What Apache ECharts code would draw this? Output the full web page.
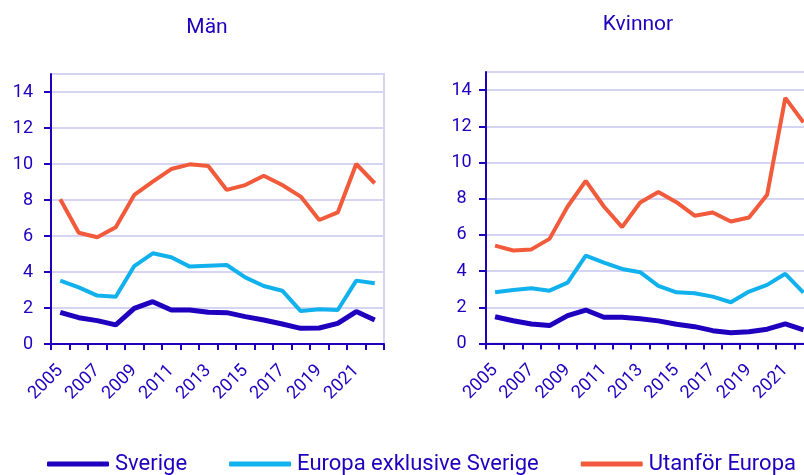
<!DOCTYPE html>
<html>
<head>
<meta charset="utf-8">
<script src="https://cdn.jsdelivr.net/npm/echarts@6/dist/echarts.min.js"></script>
<style>html,body{margin:0;padding:0;background:#fff;overflow:hidden}#c{width:830px;height:475px}</style>
</head>
<body>
<div id="c"></div>
<script>
const years = ['2005','2006','2007','2008','2009','2010','2011','2012','2013','2014','2015','2016','2017','2018','2019','2020','2021','2022'];
const seriesNames = ['Sverige','Europa exklusive Sverige','Utanför Europa'];
const panelTitles = ['Män','Kvinnor'];
const yTicks = [0,2,4,6,8,10,12,14];

const manSverige = [1.76,1.46,1.30,1.06,1.98,2.35,1.89,1.89,1.76,1.74,1.52,1.33,1.11,0.87,0.89,1.15,1.80,1.33];
const manEuropa  = [3.52,3.15,2.69,2.63,4.33,5.04,4.82,4.30,4.35,4.39,3.70,3.22,2.96,1.83,1.93,1.89,3.52,3.37];
const manUtanfor = [8.04,6.18,5.93,6.48,8.28,9.02,9.72,9.98,9.89,8.56,8.83,9.35,8.83,8.19,6.89,7.31,10.0,8.93];

const kvSverige = [1.48,1.26,1.08,0.99,1.54,1.85,1.45,1.45,1.37,1.25,1.06,0.93,0.71,0.60,0.65,0.79,1.08,0.75];
const kvEuropa  = [2.83,2.96,3.05,2.92,3.36,4.86,4.47,4.12,3.94,3.18,2.83,2.78,2.59,2.28,2.87,3.24,3.85,2.81];
const kvUtanfor = [5.41,5.14,5.20,5.78,7.57,8.99,7.57,6.43,7.79,8.37,7.81,7.06,7.24,6.74,6.96,8.22,13.57,12.22];

const DARK = '#1E00BE', LIGHT = '#10B1EC', RED = '#F15A3B', GRID = '#D5D5F3';
const FONT = 'Roboto';

const chart = echarts.init(document.getElementById('c'), null, {renderer: 'canvas'});

function xAxis(gi) {
  return {
    type: 'category', gridIndex: gi, data: years, boundaryGap: true,
    axisLine: {lineStyle: {color: DARK, width: 2}},
    axisTick: {show: true, interval: 0, length: 6, lineStyle: {color: DARK, width: 2}},
    axisLabel: {interval: 1, rotate: 45, color: DARK, fontSize: 18, fontFamily: FONT, margin: 24},
    splitLine: {show: false}
  };
}
function yAxis(gi, align, margin) {
  return {
    type: 'value', gridIndex: gi, min: 0, max: 15, interval: 2,
    axisLine: {show: true, lineStyle: {color: DARK, width: 2}},
    axisTick: {show: true, length: 7, lineStyle: {color: DARK, width: 2}, customValues: yTicks},
    axisLabel: {color: DARK, fontSize: 18, fontFamily: FONT, margin: margin, align: align,
      customValues: yTicks,
      formatter: v => (yTicks.indexOf(v) >= 0 ? String(v) : '')},
    splitLine: {show: true, lineStyle: {color: GRID, width: 2}}
  };
}
function line(name, data, color, width, gi) {
  return {
    name: name, type: 'line', xAxisIndex: gi, yAxisIndex: gi, data: data,
    symbol: 'none', lineStyle: {color: color, width: width}, itemStyle: {color: color},
    emphasis: {disabled: true}, animation: false
  };
}

chart.setOption({
  animation: false,
  textStyle: {fontFamily: FONT},
  title: [
    {text: panelTitles[0], left: 207, top: 17, textAlign: 'center', padding: 0,
     textStyle: {color: DARK, fontSize: 21, fontWeight: 'normal', fontFamily: FONT}},
    {text: panelTitles[1], left: 638, top: 14, textAlign: 'center', padding: 0,
     textStyle: {color: DARK, fontSize: 21, fontWeight: 'normal', fontFamily: FONT}}
  ],
  grid: [
    {left: 51, top: 74, width: 333, height: 270, show: true, borderColor: GRID, borderWidth: 2, containLabel: false},
    {left: 486, top: 72, width: 326.5, height: 271.5, show: true, borderColor: GRID, borderWidth: 2, containLabel: false}
  ],
  xAxis: [xAxis(0), xAxis(1)],
  yAxis: [yAxis(0, 'right', 18), yAxis(1, 'center', 24.5)],
  legend: {
    data: seriesNames, left: 47, top: 453, padding: 0, itemWidth: 62, itemHeight: 5, itemGap: 42,
    icon: 'roundRect', selectedMode: false,
    textStyle: {color: DARK, fontSize: 22, fontFamily: FONT, padding: [0, 0, 0, 1]}
  },
  series: [
    line(seriesNames[0], manSverige, DARK, 5, 0),
    line(seriesNames[1], manEuropa, LIGHT, 4, 0),
    line(seriesNames[2], manUtanfor, RED, 4, 0),
    line(seriesNames[0], kvSverige, DARK, 5, 1),
    line(seriesNames[1], kvEuropa, LIGHT, 4, 1),
    line(seriesNames[2], kvUtanfor, RED, 4, 1)
  ]
});
</script>
</body>
</html>
